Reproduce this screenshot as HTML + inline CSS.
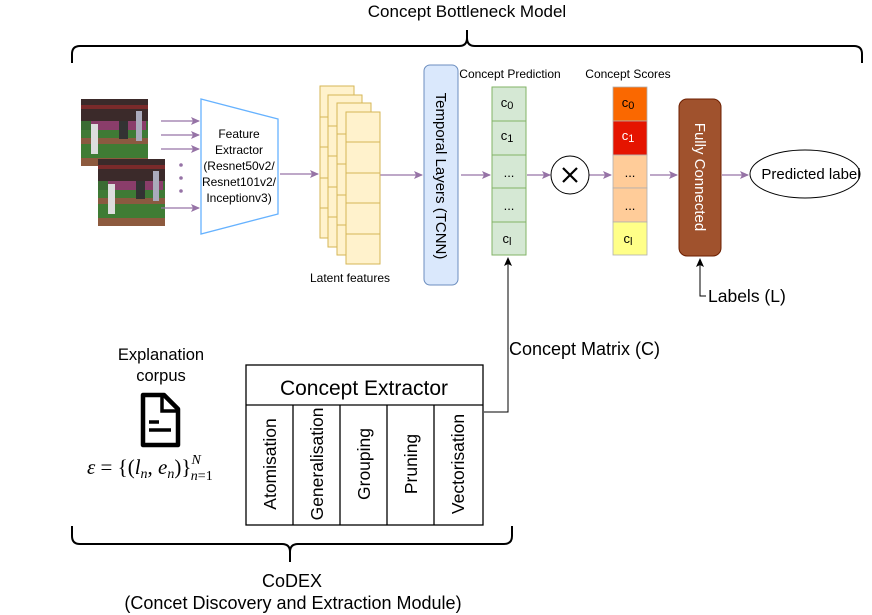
<!DOCTYPE html>
<html><head><meta charset="utf-8"><style>
html,body{margin:0;padding:0;background:#fff;}
svg{display:block;font-family:"Liberation Sans",sans-serif;}
</style></head><body>
<svg width="872" height="615" viewBox="0 0 872 615" xmlns="http://www.w3.org/2000/svg">
<defs>
<marker id="pa" markerWidth="10" markerHeight="10" refX="8" refY="5" orient="auto" markerUnits="userSpaceOnUse"><path d="M0,1 L9,5 L0,9 L2,5 Z" fill="#9673a6"/></marker>
<marker id="ka" markerWidth="10" markerHeight="10" refX="8" refY="5" orient="auto" markerUnits="userSpaceOnUse"><path d="M0,1 L9,5 L0,9 L2,5 Z" fill="#000"/></marker>
<g id="photo">
<rect x="0" y="0" width="67" height="67" fill="#3a6b33"/>
<rect x="0" y="0" width="67" height="22" fill="#3b2a2a"/>
<rect x="0" y="6" width="67" height="4" fill="#7a2a2a"/>
<rect x="10" y="22" width="55" height="9" fill="#8a3d6a"/>
<rect x="0" y="31" width="67" height="8" fill="#3f7a35"/>
<rect x="0" y="39" width="67" height="6" fill="#8a5a40"/>
<rect x="0" y="45" width="67" height="14" fill="#3f7c34"/>
<rect x="0" y="59" width="67" height="8" fill="#8d5a3e"/>
<rect x="10" y="25" width="7" height="30" fill="#ddd"/>
<rect x="38" y="22" width="9" height="18" fill="#333"/>
<rect x="55" y="12" width="6" height="30" fill="#aab"/>
</g>
</defs>
<text x="467" y="17" font-size="17" text-anchor="middle">Concept Bottleneck Model</text>
<path d="M72,63 V54 Q72,46 80,46 H459 Q467,46 467,38 V30 M467,30 V38 Q467,46 475,46 H854 Q862,46 862,54 V63" fill="none" stroke="#000" stroke-width="2"/>

<use href="#photo" x="81" y="99"/>
<use href="#photo" x="98" y="159"/>
<g stroke="#9673a6" stroke-width="1.3" marker-end="url(#pa)">
<line x1="161" y1="121" x2="199" y2="121"/>
<line x1="161" y1="135" x2="199" y2="135"/>
<line x1="161" y1="149" x2="199" y2="149"/>
<line x1="161" y1="208" x2="199" y2="208"/>
<line x1="280" y1="174" x2="318" y2="174"/>
<line x1="380" y1="175" x2="422" y2="175"/>
<line x1="461" y1="175" x2="490" y2="175"/>
<line x1="527" y1="175" x2="550" y2="175"/>
<line x1="589" y1="175" x2="611" y2="175"/>
<line x1="650" y1="175" x2="677" y2="175"/>
<line x1="722" y1="175" x2="748" y2="175"/>
</g>
<g fill="#9673a6"><circle cx="181" cy="165" r="1.8"/><circle cx="181" cy="178" r="1.8"/><circle cx="181" cy="191" r="1.8"/></g>
<path d="M201,99 L278,119 L278,214 L201,234 Z" fill="#fff" stroke="#66b2ff" stroke-width="1.3"/>
<g font-size="12" text-anchor="middle"><text x="239" y="138">Feature</text><text x="239" y="154">Extractor</text><text x="239" y="170">(Resnet50v2/</text><text x="239" y="186">Resnet101v2/</text><text x="239" y="202">Inceptionv3)</text></g>

<g fill="#fff2cc" stroke="#d6b656" stroke-width="1">
<rect x="320" y="86" width="34" height="152"/>
<line x1="320" y1="117" x2="354" y2="117"/><line x1="320" y1="147" x2="354" y2="147"/><line x1="320" y1="178" x2="354" y2="178"/><line x1="320" y1="208" x2="354" y2="208"/>
<rect x="328" y="95" width="34" height="152"/>
<line x1="328" y1="126" x2="362" y2="126"/><line x1="328" y1="156" x2="362" y2="156"/><line x1="328" y1="187" x2="362" y2="187"/><line x1="328" y1="217" x2="362" y2="217"/>
<rect x="337" y="103" width="34" height="152"/>
<line x1="337" y1="134" x2="371" y2="134"/><line x1="337" y1="164" x2="371" y2="164"/><line x1="337" y1="195" x2="371" y2="195"/><line x1="337" y1="225" x2="371" y2="225"/>
<rect x="346" y="112" width="34" height="152"/>
<line x1="346" y1="142" x2="380" y2="142"/><line x1="346" y1="173" x2="380" y2="173"/><line x1="346" y1="203" x2="380" y2="203"/><line x1="346" y1="234" x2="380" y2="234"/>
</g>
<text x="350" y="282" font-size="12" text-anchor="middle">Latent features</text>

<rect x="424" y="65" width="34" height="220" rx="6" fill="#dae8fc" stroke="#6c8ebf"/>
<text transform="translate(436,176) rotate(90)" font-size="15" text-anchor="middle">Temporal Layers (TCNN)</text>

<text x="510" y="78" font-size="12" text-anchor="middle">Concept Prediction</text>
<g stroke="#82b366" fill="#d5e8d4"><rect x="492" y="87" width="34" height="34"/><rect x="492" y="121" width="34" height="34"/><rect x="492" y="155" width="34" height="33"/><rect x="492" y="188" width="34" height="34"/><rect x="492" y="222" width="34" height="33"/></g>
<g font-size="13" text-anchor="middle"><text x="507" y="107">c<tspan font-size="11" dy="2">0</tspan></text><text x="507" y="140">c<tspan font-size="11" dy="2">1</tspan></text><text x="509" y="177">...</text><text x="509" y="210">...</text><text x="507" y="243">c<tspan font-size="11" dy="2">l</tspan></text></g>

<circle cx="570" cy="175" r="19" fill="#fff" stroke="#000"/>
<path d="M563,168 L577,182 M577,168 L563,182" stroke="#000" stroke-width="2.2"/>

<text x="628" y="78" font-size="12" text-anchor="middle">Concept Scores</text>
<g stroke="#b0b0b0" stroke-width="0.8"><rect x="613" y="87" width="34" height="34" fill="#fa6800"/><rect x="613" y="121" width="34" height="34" fill="#e51400"/><rect x="613" y="155" width="34" height="33" fill="#ffcc99"/><rect x="613" y="188" width="34" height="34" fill="#ffcc99"/><rect x="613" y="222" width="34" height="33" fill="#ffff88"/></g>
<g font-size="13" text-anchor="middle"><text x="628" y="107">c<tspan font-size="11" dy="2">0</tspan></text><text x="628" y="140" fill="#fff">c<tspan font-size="11" dy="2">1</tspan></text><text x="630" y="177">...</text><text x="630" y="210">...</text><text x="628" y="243">c<tspan font-size="11" dy="2">l</tspan></text></g>

<rect x="679" y="99" width="42" height="157" rx="8" fill="#a0522d" stroke="#6d1f00"/>
<text transform="translate(695,177) rotate(90)" font-size="15" fill="#fff" text-anchor="middle">Fully Connected</text>

<ellipse cx="805" cy="174" rx="55" ry="24" fill="#fff" stroke="#000"/>
<text x="811" y="179" font-size="15" text-anchor="middle">Predicted label</text>

<path d="M706,296 H700 V259" fill="none" stroke="#000" marker-end="url(#ka)"/>
<text x="708" y="302" font-size="17.5">Labels (L)</text>

<path d="M484,412 H508 V258" fill="none" stroke="#000" marker-end="url(#ka)"/>
<text x="509" y="355" font-size="18">Concept Matrix (C)</text>

<rect x="246" y="365" width="237" height="160" fill="#fff" stroke="#000" stroke-width="1.3"/>
<line x1="246" y1="405" x2="483" y2="405" stroke="#000" stroke-width="1.3"/>
<g stroke="#000" stroke-width="1.3"><line x1="293" y1="405" x2="293" y2="525"/><line x1="340" y1="405" x2="340" y2="525"/><line x1="387" y1="405" x2="387" y2="525"/><line x1="434" y1="405" x2="434" y2="525"/></g>
<text x="364" y="395" font-size="21" text-anchor="middle">Concept Extractor</text>
<g font-size="17.5" text-anchor="middle">
<text transform="translate(276,464) rotate(-90)">Atomisation</text>
<text transform="translate(323,464) rotate(-90)">Generalisation</text>
<text transform="translate(370,464) rotate(-90)">Grouping</text>
<text transform="translate(417,464) rotate(-90)">Pruning</text>
<text transform="translate(464,464) rotate(-90)">Vectorisation</text>
</g>

<text x="161" y="360" font-size="16.5" text-anchor="middle">Explanation</text>
<text x="161" y="381" font-size="16.5" text-anchor="middle">corpus</text>
<path d="M143,395 H164 L178,409 V445 H143 Z" fill="none" stroke="#000" stroke-width="4.5" stroke-linejoin="round"/>
<path d="M162,395 V411 H178" fill="none" stroke="#000" stroke-width="3.5"/>
<line x1="149" y1="422" x2="159" y2="422" stroke="#000" stroke-width="3.5"/>
<line x1="149" y1="430" x2="171" y2="430" stroke="#000" stroke-width="3.5"/>
<text x="87" y="474" font-size="21" font-family="Liberation Serif,serif"><tspan font-style="italic">ε</tspan> = {(<tspan font-style="italic">l</tspan><tspan font-size="14" font-style="italic" dy="4">n</tspan><tspan dy="-4">, </tspan><tspan font-style="italic">e</tspan><tspan font-size="14" font-style="italic" dy="4">n</tspan><tspan dy="-4">)}</tspan><tspan font-size="14" dy="-10" font-style="italic">N</tspan><tspan font-size="14" dx="-10" dy="16"><tspan font-style="italic">n</tspan>=1</tspan></text>

<path d="M72,526 V536 Q72,544 80,544 H282 Q290,544 290,552 V562 M290,562 V552 Q290,544 298,544 H504 Q512,544 512,536 V526" fill="none" stroke="#000" stroke-width="2"/>
<text x="292" y="587" font-size="18" text-anchor="middle">CoDEX</text>
<text x="293" y="609" font-size="18" text-anchor="middle">(Concet Discovery and Extraction Module)</text>
</svg>
</body></html>
